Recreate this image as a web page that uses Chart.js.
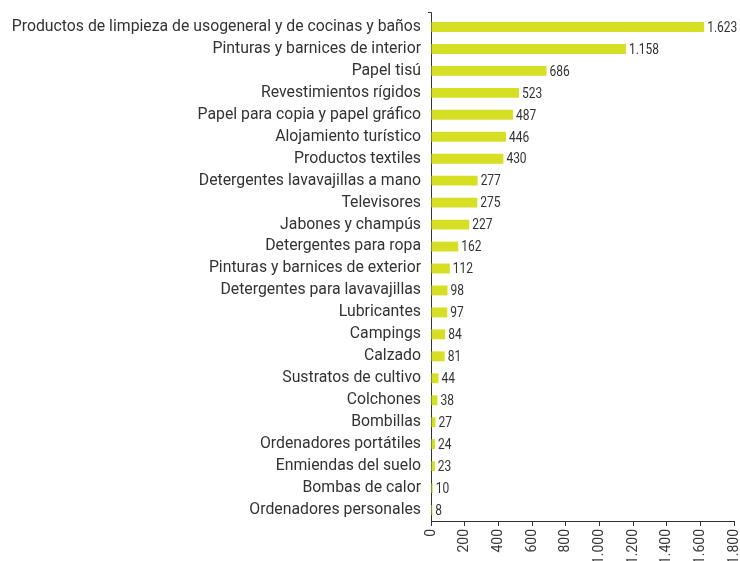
<!DOCTYPE html>
<html><head><meta charset="utf-8">
<script src="https://cdn.jsdelivr.net/npm/chart.js@4/dist/chart.umd.min.js"></script>
<style>html,body{margin:0;padding:0;background:#fff;overflow:hidden}#wrap{width:740px;height:561px;position:relative}</style>
</head><body><div id="wrap"><canvas id="c"></canvas></div>
<script>
const categories = [
  "Productos de limpieza de usogeneral y de cocinas y baños",
  "Pinturas y barnices de interior",
  "Papel tisú",
  "Revestimientos rígidos",
  "Papel para copia y papel gráfico",
  "Alojamiento turístico",
  "Productos textiles",
  "Detergentes lavavajillas a mano",
  "Televisores",
  "Jabones y champús",
  "Detergentes para ropa",
  "Pinturas y barnices de exterior",
  "Detergentes para lavavajillas",
  "Lubricantes",
  "Campings",
  "Calzado",
  "Sustratos de cultivo",
  "Colchones",
  "Bombillas",
  "Ordenadores portátiles",
  "Enmiendas del suelo",
  "Bombas de calor",
  "Ordenadores personales"
];
const values = [1623, 1158, 686, 523, 487, 446, 430, 277, 275, 227, 162, 112, 98, 97, 84, 81, 44, 38, 27, 24, 23, 10, 8];
const xTicks = [0, 200, 400, 600, 800, 1000, 1200, 1400, 1600, 1800];

function fmt(n){ return String(n).replace(/\B(?=(\d{3})+(?!\d))/g, "."); }

const valueLabels = {
  id: 'valueLabels',
  afterDatasetsDraw(chart){
    const ctx = chart.ctx;
    const meta = chart.getDatasetMeta(0);
    const sx = 0.8;
    meta.data.forEach((el, i) => {
      ctx.save();
      ctx.translate(el.x + 3, el.y + 1);
      ctx.scale(sx, 1);
      ctx.font = '15px Roboto, sans-serif';
      ctx.fillStyle = '#333';
      ctx.textAlign = 'left';
      ctx.textBaseline = 'middle';
      ctx.fillText(fmt(values[i]), 0, 0);
      ctx.restore();
    });
  }
};

const axisCap = {
  id: 'axisCap',
  afterDraw(chart){
    const ctx = chart.ctx;
    const ax = chart.scales.y.right;
    const top = chart.chartArea.top;
    ctx.save();
    ctx.strokeStyle = '#333';
    ctx.lineWidth = 1;
    ctx.beginPath();
    ctx.moveTo(Math.round(ax) - 3, top - 3.5);
    ctx.lineTo(Math.round(ax) + 0.5, top - 3.5);
    ctx.lineTo(Math.round(ax) + 0.5, top);
    ctx.stroke();
    ctx.restore();
  }
};

new Chart(document.getElementById('c'), {
  type: 'bar',
  data: {
    labels: categories,
    datasets: [{
      data: values,
      backgroundColor: '#d6df23',
      barPercentage: 0.9,
      categoryPercentage: 0.5
    }]
  },
  options: {
    indexAxis: 'y',
    responsive: true,
    maintainAspectRatio: false,
    animation: false,
    layout: { padding: { left: 0, right: 6, top: 16, bottom: 0 } },
    plugins: { legend: { display: false }, tooltip: { enabled: false } },
    scales: {
      x: {
        min: 0, max: 1800,
        afterBuildTicks(scale){ scale.ticks = xTicks.map(v => ({value: v})); },
        ticks: {
          minRotation: 90, maxRotation: 90, padding: 3,
          color: '#3a3a3a',
          font: { family: 'Roboto', size: 14 },
          callback: (v) => fmt(v)
        },
        grid: { drawOnChartArea: false, drawTicks: true, tickLength: 5, color: '#333' },
        border: { display: true, color: '#333', width: 1 },
        afterFit(scale){ scale.height = 40; scale.paddingLeft = 0; scale.paddingRight = 0; }
      },
      y: {
        ticks: {
          padding: 10,
          color: '#333',
          font: { family: 'Roboto', size: 15.8 },
          autoSkip: false
        },
        grid: { display: false, drawTicks: false },
        border: { display: true, color: '#333', width: 1 },
        afterFit(scale){ scale.width = 431; scale.paddingTop = 0; scale.paddingBottom = 0; }
      }
    }
  },
  plugins: [valueLabels, axisCap]
});
</script></body></html>
